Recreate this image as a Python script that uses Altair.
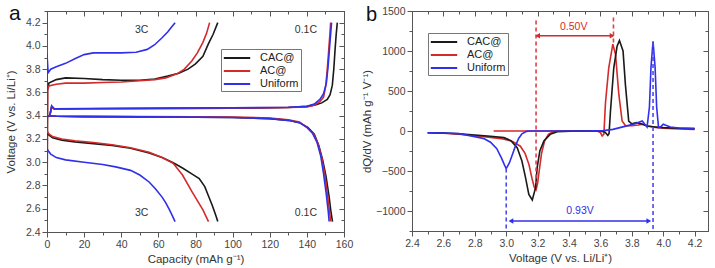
import altair as alt
import pandas as pd

FONT = "Liberation Sans"
SERIES = ["CAC@", "AC@", "Uniform"]
COLORS = ["#1a1a1a", "#d42a2a", "#3030ea"]

# ---------------- panel a: charge / discharge curves ----------------
# 3C charge
cac_3c_chg_cap = [0, 0.3, 1, 5, 10, 20, 30, 40, 50, 58, 65, 71, 76, 80, 84, 87, 89.5, 92]
cac_3c_chg_v = [2.5, 3.62, 3.68, 3.71, 3.725, 3.72, 3.71, 3.705, 3.705, 3.715, 3.74, 3.765, 3.80, 3.845, 3.91, 4.02, 4.10, 4.2]
ac_3c_chg_cap = [0, 0.3, 1, 5, 10, 20, 30, 40, 50, 58, 64, 70, 74, 78, 81, 84, 86, 87.6]
ac_3c_chg_v = [2.5, 3.62, 3.655, 3.67, 3.68, 3.68, 3.685, 3.69, 3.70, 3.71, 3.725, 3.76, 3.80, 3.87, 3.94, 4.03, 4.11, 4.2]
uni_3c_chg_cap = [0, 0, 0.6, 2, 5, 10, 15, 20, 25, 30, 40, 48, 54, 58, 62, 65, 67, 69]
uni_3c_chg_v = [2.5, 3.93, 3.77, 3.80, 3.82, 3.85, 3.89, 3.925, 3.94, 3.94, 3.94, 3.945, 3.97, 4.01, 4.07, 4.12, 4.16, 4.2]
# 3C discharge
cac_3c_dis_cap = [0, 0.5, 3, 8, 15, 25, 35, 45, 55, 62, 68, 73, 78, 82, 85, 87, 89, 91, 92]
cac_3c_dis_v = [3.27, 3.24, 3.21, 3.19, 3.175, 3.16, 3.145, 3.12, 3.08, 3.04, 2.995, 2.95, 2.90, 2.86, 2.79, 2.71, 2.63, 2.54, 2.49]
ac_3c_dis_cap = [0, 0.5, 3, 8, 15, 25, 35, 45, 55, 62, 68, 73, 78, 81, 84, 87]
ac_3c_dis_v = [3.28, 3.25, 3.22, 3.20, 3.185, 3.17, 3.15, 3.125, 3.085, 3.04, 2.99, 2.89, 2.75, 2.67, 2.59, 2.49]
uni_3c_dis_cap = [0, 0.5, 2, 5, 10, 20, 30, 37, 45, 50, 55, 58.5, 62, 64, 66, 67.5, 69]
uni_3c_dis_v = [3.12, 3.10, 3.07, 3.04, 3.02, 3.0, 2.98, 2.96, 2.93, 2.89, 2.83, 2.77, 2.70, 2.65, 2.59, 2.54, 2.49]
# 0.1C charge
cac_01_chg_cap = [0, 1.5, 2.5, 4, 20, 60, 100, 130, 140, 145, 148, 151, 152.5, 153.7, 154.5, 155.2, 155.8, 156.4]
cac_01_chg_v = [3.39, 3.40, 3.475, 3.455, 3.46, 3.462, 3.465, 3.47, 3.48, 3.495, 3.51, 3.54, 3.58, 3.66, 3.80, 3.97, 4.10, 4.2]
ac_01_chg_cap = [0, 1.5, 2.5, 4, 20, 60, 100, 130, 140, 144, 147, 149, 150.2, 151, 151.8, 152.4, 152.8]
ac_01_chg_v = [3.39, 3.40, 3.475, 3.455, 3.46, 3.462, 3.465, 3.47, 3.475, 3.49, 3.52, 3.56, 3.66, 3.80, 3.97, 4.10, 4.2]
uni_01_chg_cap = [0, 1.5, 2.5, 4, 20, 60, 100, 130, 140, 144, 147, 149, 150.5, 151.4, 152.2, 152.8, 153.3]
uni_01_chg_v = [3.39, 3.40, 3.485, 3.46, 3.462, 3.465, 3.467, 3.472, 3.48, 3.50, 3.54, 3.59, 3.68, 3.82, 3.98, 4.10, 4.2]
# 0.1C discharge
cac_01_dis_cap = [0, 5, 20, 50, 80, 100, 120, 130, 136, 140.5, 144, 146.5, 148.5, 150.3, 152, 153, 153.8]
cac_01_dis_v = [3.40, 3.395, 3.392, 3.39, 3.388, 3.385, 3.375, 3.36, 3.34, 3.30, 3.24, 3.14, 3.02, 2.88, 2.70, 2.57, 2.49]
ac_01_dis_cap = [0, 5, 20, 50, 80, 100, 120, 130, 136, 140, 143.5, 146, 148, 149.6, 151.2, 152.2, 152.8]
ac_01_dis_v = [3.40, 3.396, 3.394, 3.392, 3.39, 3.388, 3.38, 3.365, 3.345, 3.30, 3.245, 3.16, 3.04, 2.90, 2.71, 2.58, 2.49]
uni_01_dis_cap = [0, 5, 20, 50, 80, 100, 120, 130, 136, 140, 143, 145.5, 147.5, 149, 150.5, 151.5, 152]
uni_01_dis_v = [3.40, 3.395, 3.392, 3.39, 3.388, 3.385, 3.375, 3.36, 3.34, 3.30, 3.25, 3.17, 3.05, 2.90, 2.72, 2.58, 2.49]

a_labels_text = ["3C", "0.1C", "3C", "0.1C"]
a_labels_cap = [51, 139.5, 51, 139.5]
a_labels_v = [4.14, 4.14, 2.56, 2.56]

# ---------------- panel b: dQ/dV ----------------
uni_b_v = [2.5, 2.6, 2.7, 2.8, 2.86, 2.9, 2.94, 2.97, 2.99, 3.0, 3.02, 3.04, 3.06, 3.08, 3.1, 3.13, 3.15,
           3.3, 3.5, 3.62, 3.68, 3.73, 3.78, 3.82, 3.866, 3.897, 3.912, 3.922, 3.935, 3.948, 3.958, 3.97,
           3.985, 4.0, 4.02, 4.045, 4.1, 4.2]
uni_b_q = [-22, -25, -33, -70, -96, -140, -220, -340, -430, -470, -400, -290, -180, -90, -35, -5, 0,
           0, 0, 5, 20, 45, 70, 90, 125, 50, 300, 800, 1120, 800, 300, 42,
           55, 85, 70, 50, 38, 32]
cac_b_v = [2.5, 2.6, 2.7, 2.8, 2.9, 2.985, 3.03, 3.07, 3.10, 3.123, 3.144, 3.166, 3.187, 3.197, 3.214,
           3.24, 3.28, 3.325, 3.45, 3.6, 3.63, 3.647, 3.655, 3.664, 3.685, 3.706, 3.721, 3.744, 3.759,
           3.78, 3.80, 3.83, 3.86, 3.9, 3.95, 4.0, 4.1, 4.2]
cac_b_q = [-22, -25, -35, -50, -65, -83, -120, -208, -375, -583, -792, -862, -708, -458, -250,
           -125, -42, -8, 0, 0, -15, -55, -30, 250, 790, 1060, 1130, 1000, 580,
           125, 90, 105, 90, 60, 50, 42, 35, 30]
ac_b_chg_v = [2.92, 3.3, 3.5, 3.58, 3.6, 3.611, 3.622, 3.632, 3.653, 3.679, 3.696, 3.717, 3.738, 3.76,
              3.8, 3.84, 3.87, 3.9, 3.95, 4.0, 4.1, 4.2]
ac_b_chg_q = [0, 0, 0, 0, -20, -62, -40, 350, 790, 1085, 960, 460, 125, 65,
              65, 75, 85, 65, 45, 35, 25, 20]
ac_b_dis_v = [2.5, 2.6, 2.7, 2.8, 2.9, 2.98, 3.04, 3.09, 3.12, 3.145, 3.165, 3.178, 3.19, 3.2, 3.21,
              3.225, 3.245, 3.27, 3.3, 3.33]
ac_b_dis_q = [-22, -28, -40, -60, -80, -100, -130, -190, -280, -420, -600, -700, -735, -650, -500,
              -280, -120, -40, -10, 0]

# dashed guide lines: (voltage, q start, q end, colour)
guide_v = [3.19, 3.683, 3.0, 3.935]
guide_q1 = [1380, 1420, -470, 1100]
guide_q2 = [-650, 1080, -1250, -1250]
guide_col = ["#e0404a", "#e0404a", "#4a4af0", "#4a4af0"]
# double arrows
arrow_v1 = [3.20, 3.03]
arrow_v2 = [3.674, 3.908]
arrow_q = [1190, -1125]
arrow_col = ["#d42a2a", "#3030ea"]
arrow_text = ["0.50V", "0.93V"]
arrow_text_v = [3.43, 3.47]
arrow_text_q = [1300, -1000]


def build(parts):
    rows = []
    for seg, (name, xs, ys) in enumerate(parts):
        for i, (x, y) in enumerate(zip(xs, ys)):
            rows.append({"series": name, "seg": seg, "ord": i, "x": x, "y": y})
    return pd.DataFrame(rows)


df_a = build([
    ("CAC@", cac_3c_chg_cap, cac_3c_chg_v), ("AC@", ac_3c_chg_cap, ac_3c_chg_v),
    ("Uniform", uni_3c_chg_cap, uni_3c_chg_v),
    ("CAC@", cac_3c_dis_cap, cac_3c_dis_v), ("AC@", ac_3c_dis_cap, ac_3c_dis_v),
    ("Uniform", uni_3c_dis_cap, uni_3c_dis_v),
    ("CAC@", cac_01_chg_cap, cac_01_chg_v), ("AC@", ac_01_chg_cap, ac_01_chg_v),
    ("Uniform", uni_01_chg_cap, uni_01_chg_v),
    ("CAC@", cac_01_dis_cap, cac_01_dis_v), ("AC@", ac_01_dis_cap, ac_01_dis_v),
    ("Uniform", uni_01_dis_cap, uni_01_dis_v),
])
df_b = build([
    ("AC@", ac_b_chg_v, ac_b_chg_q), ("AC@", ac_b_dis_v, ac_b_dis_q),
    ("CAC@", cac_b_v, cac_b_q), ("Uniform", uni_b_v, uni_b_q),
])

TICK_C = "#555555"
LABEL_C = "#444444"


def axis_main(values, major_test, fmt, title, title_pad, orient):
    return alt.Axis(
        values=values, orient=orient, title=title, format=fmt,
        labelExpr=f"({major_test}) ? datum.label : ''",
        tickSize={"condition": {"test": major_test, "value": 5}, "value": 3},
        tickColor=TICK_C, domainColor=TICK_C, labelColor=LABEL_C, labelFont=FONT,
        labelFontSize=10.5, titleFont=FONT, titleFontSize=11.5, titleFontWeight="normal",
        titleColor="#333333", titlePadding=title_pad, labelPadding=2, grid=False,
        labelFlush=False, labelOverlap=False,
    )


def axis_mirror(values, major_test, orient):
    return alt.Axis(
        values=values, orient=orient, title=None, labels=False,
        tickSize={"condition": {"test": major_test, "value": -5}, "value": -3},
        tickColor=TICK_C, domainColor=TICK_C, grid=False,
    )


color_scale = alt.Scale(domain=SERIES, range=COLORS)


def legend(x, y):
    return alt.Legend(
        orient="none", legendX=x, legendY=y, title=None, symbolType="M-2.2,0H2.2",
        symbolStrokeWidth=2, symbolSize=144, symbolFillColor="transparent",
        labelFont=FONT, labelFontSize=11, labelLimit=200,
        labelColor="#222222", strokeColor="#777777", fillColor="white", padding=2,
        rowPadding=1, labelOffset=16, symbolOffset=7,
    )


def X(field, scale):
    return alt.X(field, scale=scale, axis=None)


def Y(field, scale):
    return alt.Y(field, scale=scale, axis=None)


# ---------------- panel a ----------------
ax_vals = list(range(0, 161, 10))
ay_vals = [round(2.4 + 0.1 * i, 1) for i in range(20)]
ax_test = "datum.value % 20 === 0"
ay_test = "round(datum.value * 10) % 2 === 0 && datum.value < 4.25"
xs_a = alt.Scale(domain=[0, 160], nice=False, zero=False)
ys_a = alt.Scale(domain=[2.4, 4.3], nice=False, zero=False)

lines_a = alt.Chart(df_a).mark_line(strokeWidth=1.6, clip=True).encode(
    x=alt.X("x:Q", scale=xs_a, axis=axis_main(ax_vals, ax_test, "d", "Capacity (mAh g⁻¹)", 4, "bottom")),
    y=alt.Y("y:Q", scale=ys_a, axis=axis_main(ay_vals, ay_test, ".1f", "Voltage (V vs. Li/Li⁺)", 9, "left")),
    color=alt.Color("series:N", scale=color_scale, legend=legend(174, 38)),
    detail="seg:N", order="ord:Q",
)
mirror_a = alt.Chart(pd.DataFrame({"x": [0], "y": [2.4]})).mark_point(opacity=0).encode(
    x=alt.X("x:Q", scale=xs_a, axis=axis_mirror(ax_vals, ax_test, "top")),
    y=alt.Y("y:Q", scale=ys_a, axis=axis_mirror(ay_vals, ay_test, "right")),
)
text_a = alt.Chart(pd.DataFrame({"t": a_labels_text, "x": a_labels_cap, "y": a_labels_v})).mark_text(
    font=FONT, fontSize=10.5, color="#333333"
).encode(x=X("x:Q", xs_a), y=Y("y:Q", ys_a), text="t:N")
tag_a = alt.Chart(pd.DataFrame({"t": ["a"]})).mark_text(
    font=FONT, fontSize=21, color="#111111", align="left", baseline="alphabetic"
).encode(x=alt.value(-38), y=alt.value(9), text="t:N")

panel_a = alt.layer(lines_a, mirror_a, text_a, tag_a).resolve_axis(
    x="independent", y="independent").properties(width=297, height=221)

# ---------------- panel b ----------------
bx_vals = [round(2.4 + 0.1 * i, 1) for i in range(19)]
by_vals = list(range(-1250, 1501, 250))
bx_test = "round(datum.value * 10) % 2 === 0"
by_test = "datum.value % 500 === 0"
xs_b = alt.Scale(domain=[2.4, 4.285], nice=False, zero=False)
ys_b = alt.Scale(domain=[-1250, 1500], nice=False, zero=False)

lines_b = alt.Chart(df_b).mark_line(strokeWidth=1.6, clip=True).encode(
    x=alt.X("x:Q", scale=xs_b, axis=axis_main(bx_vals, bx_test, ".1f", "Voltage (V vs. Li/Li⁺)", 4, "bottom")),
    y=alt.Y("y:Q", scale=ys_b, axis=axis_main(by_vals, by_test, "d", "dQ/dV (mAh g⁻¹ V⁻¹)", 3, "left")),
    color=alt.Color("series:N", scale=color_scale, legend=legend(16, 22)),
    detail="seg:N", order="ord:Q",
)
mirror_b = alt.Chart(pd.DataFrame({"x": [2.4], "y": [0]})).mark_point(opacity=0).encode(
    x=alt.X("x:Q", scale=xs_b, axis=axis_mirror(bx_vals, bx_test, "top")),
    y=alt.Y("y:Q", scale=ys_b, axis=axis_mirror(by_vals, by_test, "right")),
)
guides = alt.Chart(pd.DataFrame({"v": guide_v, "q1": guide_q1, "q2": guide_q2, "c": guide_col})).mark_rule(
    strokeDash=[4, 3], strokeWidth=1.6
).encode(x=X("v:Q", xs_b), y=Y("q1:Q", ys_b), y2="q2:Q",
         color=alt.Color("c:N", scale=None, legend=None))
arrows = alt.Chart(pd.DataFrame({"v1": arrow_v1, "v2": arrow_v2, "q": arrow_q, "c": arrow_col})).mark_rule(
    strokeWidth=1.4
).encode(x=X("v1:Q", xs_b), x2="v2:Q", y=Y("q:Q", ys_b),
         color=alt.Color("c:N", scale=None, legend=None))
heads_l = alt.Chart(pd.DataFrame({"v": arrow_v1, "q": arrow_q, "c": arrow_col})).mark_point(
    shape="triangle-left", filled=True, size=30, opacity=1
).encode(x=X("v:Q", xs_b), y=Y("q:Q", ys_b),
         color=alt.Color("c:N", scale=None, legend=None))
heads_r = alt.Chart(pd.DataFrame({"v": arrow_v2, "q": arrow_q, "c": arrow_col})).mark_point(
    shape="triangle-right", filled=True, size=30, opacity=1
).encode(x=X("v:Q", xs_b), y=Y("q:Q", ys_b),
         color=alt.Color("c:N", scale=None, legend=None))
text_b = alt.Chart(pd.DataFrame({"t": arrow_text, "v": arrow_text_v, "q": arrow_text_q, "c": arrow_col})).mark_text(
    font=FONT, fontSize=10.5
).encode(x=X("v:Q", xs_b), y=Y("q:Q", ys_b), text="t:N",
         color=alt.Color("c:N", scale=None, legend=None))
tag_b = alt.Chart(pd.DataFrame({"t": ["b"]})).mark_text(
    font=FONT, fontSize=20, color="#111111", align="left", baseline="alphabetic"
).encode(x=alt.value(-46), y=alt.value(10), text="t:N")

panel_b = alt.layer(lines_b, mirror_b, guides, arrows, heads_l, heads_r, text_b, tag_b).resolve_axis(
    x="independent", y="independent").properties(width=296, height=220)

chart = alt.hconcat(panel_a, panel_b, spacing=68, bounds="flush").resolve_legend(
    color="independent"
).properties(
    padding={"left": 4, "top": 2, "right": 4, "bottom": 0}
).configure_view(stroke="#555555")

chart.save("out.html", embed_options={"renderer": "svg", "actions": False})
